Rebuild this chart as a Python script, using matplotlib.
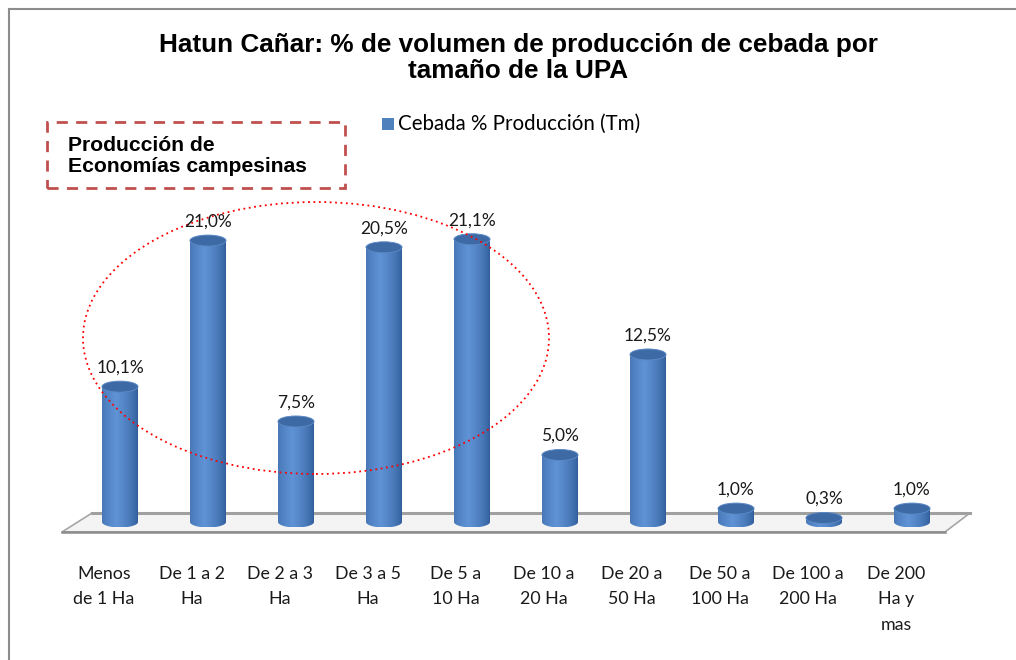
import numpy as np
import matplotlib
matplotlib.use("Agg")
import matplotlib.pyplot as plt
from matplotlib.patches import Polygon, Ellipse, Rectangle, PathPatch
from matplotlib.path import Path
from matplotlib.lines import Line2D

categories = ["Menos\nde 1 Ha", "De 1 a 2\nHa", "De 2 a 3\nHa", "De 3 a 5\nHa", "De 5 a\n10 Ha",
              "De 10 a\n20 Ha", "De 20 a\n50 Ha", "De 50 a\n100 Ha", "De 100 a\n200 Ha", "De 200\nHa y\nmas"]
values = [10.1, 21.0, 7.5, 20.5, 21.1, 5.0, 12.5, 1.0, 0.3, 1.0]
value_labels = ["10,1%", "21,0%", "7,5%", "20,5%", "21,1%", "5,0%", "12,5%", "1,0%", "0,3%", "1,0%"]
series_name = "Cebada % Producción (Tm)"
title = "Hatun Cañar: % de volumen de producción de cebada por\ntamaño de la UPA"
box_text = "Producción de\nEconomías campesinas"

W, H = 1016, 660
fig = plt.figure(figsize=(W / 100, H / 100), dpi=100)
fig.patch.set_facecolor("white")

# axes geometry (pixels)
ax_left, ax_right = 60, 975
px_per_cat = 88.0
x0_px = 120
base_px = 522
px_per_pct = 13.4
ylo, yhi = -2.0, 24.0
ax_bottom_px = base_px - ylo * px_per_pct
ax_top_px = base_px - yhi * px_per_pct
ax = fig.add_axes([ax_left / W, 1 - ax_bottom_px / H, (ax_right - ax_left) / W,
                   (ax_bottom_px - ax_top_px) / H])
xlo = -(x0_px - ax_left) / px_per_cat
xhi = 9 + (ax_right - (x0_px + 9 * px_per_cat)) / px_per_cat
ax.set_xlim(xlo, xhi)
ax.set_ylim(ylo, yhi)
ax.axis("off")

def dx(px):
    return px / px_per_cat

def dy(px):
    return px / px_per_pct

# floor
back_y, front_y = dy(522 - 513), -dy(532 - 522)
bl = xlo + dx(92 - ax_left); br = xlo + dx(970 - ax_left)
fl = xlo + dx(62 - ax_left); fr = xlo + dx(945 - ax_left)
floor = Polygon([(bl, back_y), (br, back_y), (fr, front_y), (fl, front_y)], closed=True,
                facecolor="#f4f4f4", edgecolor="#a6a6a6", lw=1.2, zorder=1)
ax.add_patch(floor)
ax.plot([bl, br], [back_y, back_y], color="#a0a0a0", lw=2.2, zorder=1.1)
ax.plot([fl, fr], [front_y, front_y], color="#8c8c8c", lw=1.8, zorder=1.1)

# cylinders
bw = dx(36)
eh = dy(11)
grad = np.linspace(0, 1, 200)
prof = np.clip(1 - np.abs(grad - 0.4) / 0.6, 0, 1) ** 0.6
c_dark = np.array([0x2f, 0x5a, 0x96]) / 255
c_light = np.array([0x5f, 0x93, 0xd6]) / 255
img = (c_dark[None, :] + (c_light - c_dark)[None, :] * prof[:, None])[None, :, :]

label_shift = dx(16)
for i, v in enumerate(values):
    xl, xr = i - bw / 2, i + bw / 2
    top = max(v, 0.0)
    t = np.linspace(np.pi, 2 * np.pi, 40)
    arc = np.column_stack([i + bw / 2 * np.cos(t), eh / 2 * np.sin(t)])
    verts = [(xl, top)] + [tuple(p) for p in arc] + [(xr, top), (xl, top)]
    path = Path(verts, [Path.MOVETO] + [Path.LINETO] * (len(verts) - 2) + [Path.CLOSEPOLY])
    body = PathPatch(path, facecolor="none", edgecolor="none", zorder=2)
    ax.add_patch(body)
    im = ax.imshow(img, extent=(xl, xr, -eh / 2, top + 0.01), aspect="auto", zorder=2,
                   interpolation="bilinear")
    im.set_clip_path(body)
    ax.add_patch(Ellipse((i, top), bw, eh, facecolor="#3d6aa5", edgecolor="#5a88c4",
                         lw=0.7, zorder=3))
    ax.text(i, top + dy(19), value_labels[i], ha="center", va="center", fontsize=12.5,
            family="Lato", color="#1a1a1a", zorder=5)
    ax.text(i - label_shift, -dy(566 - 522), categories[i], ha="center", va="top",
            fontsize=12.8, family="Lato", linespacing=1.72, color="#1a1a1a", clip_on=False,
            multialignment="center")

# dotted ellipse
ecx = xlo + dx(316 - ax_left)
ecy = dy(base_px - 338)
ax.add_patch(Ellipse((ecx, ecy), dx(466), dy(272), facecolor="none", edgecolor="#ff0000",
                     lw=1.3, linestyle=(0, (1, 2)), zorder=4, clip_on=False))

# title
fig.text(518 / W, 1 - 58 / H, title, ha="center", va="center", fontsize=18.8, fontweight="bold",
         family="Liberation Sans", linespacing=1.15)

# legend
fig.patches.append(Rectangle((382 / W, 1 - 130 / H), 12 / W, 12 / H, transform=fig.transFigure,
                             facecolor="#4f81bd", edgecolor="none"))
fig.text(398 / W, 1 - 124 / H, series_name, ha="left", va="center", fontsize=14.8, family="Lato")

# dashed box
fig.patches.append(Rectangle((47 / W, 1 - 188 / H), 298 / W, 66 / H, transform=fig.transFigure,
                             facecolor="none", edgecolor="#c0504d", lw=2.0,
                             linestyle=(0, (4, 3))))
fig.text(68 / W, 1 - 156 / H, box_text, ha="left", va="center", fontsize=15.2, fontweight="bold",
         family="Liberation Sans", linespacing=1.1)

# outer chart border
fig.add_artist(Line2D([8.5 / W, 8.5 / W], [0, 1 - 8.5 / H], transform=fig.transFigure,
                      color="#8c8c8c", lw=1.5))
fig.add_artist(Line2D([8.5 / W, 1], [1 - 8.5 / H, 1 - 8.5 / H], transform=fig.transFigure,
                      color="#8c8c8c", lw=1.5))

fig.savefig("out.png", dpi=100, facecolor="white")
